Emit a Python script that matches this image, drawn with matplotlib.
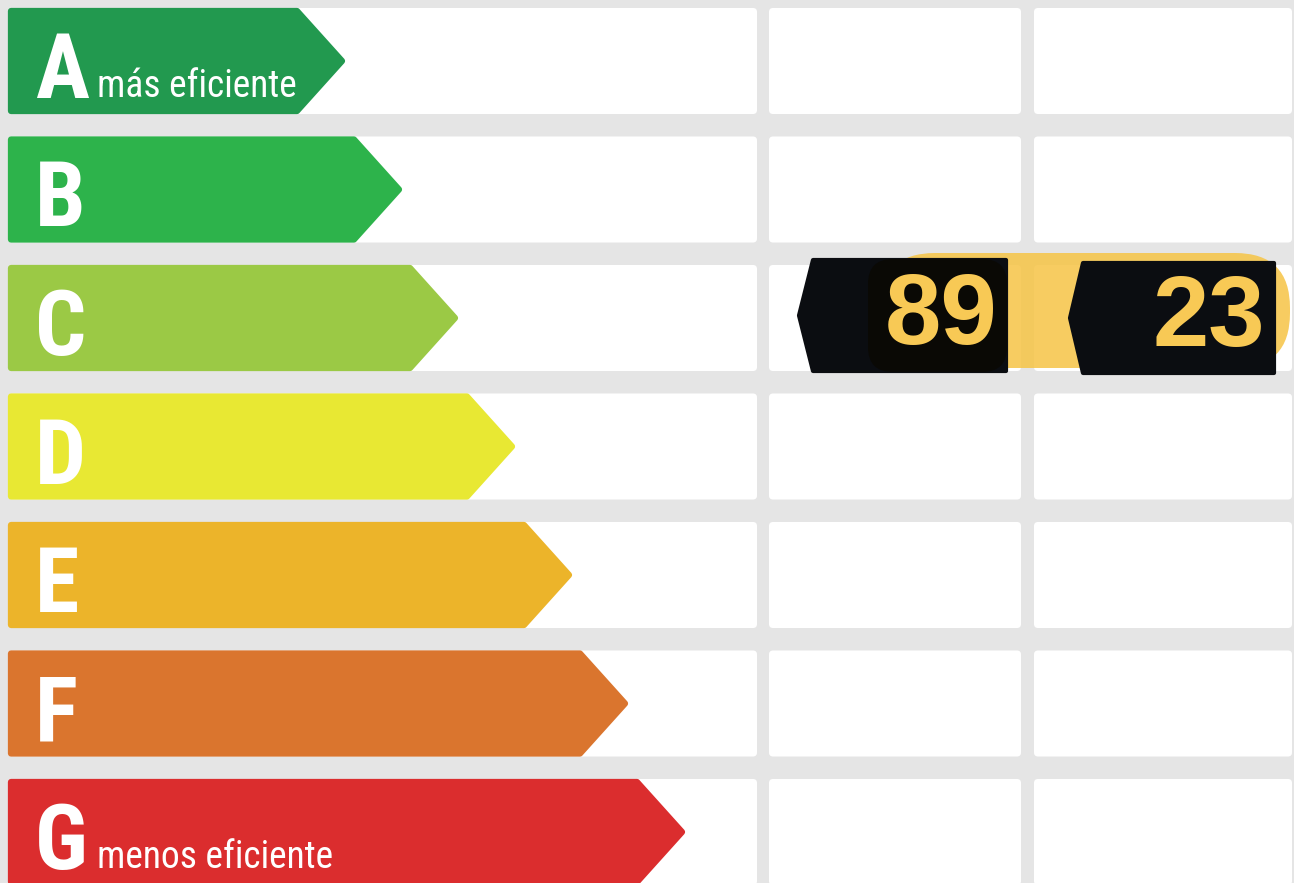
import os
import numpy as np
import matplotlib
matplotlib.use("Agg")
from matplotlib import pyplot as plt
from matplotlib import font_manager as fm
from matplotlib.patches import Polygon, FancyBboxPatch

# datos de la etiqueta
categories = ["A", "B", "C", "D", "E", "F", "G"]
subtitles = ["más eficiente", "", "", "", "", "", "menos eficiente"]
arrow_len = [345, 402, 458, 515, 572, 628, 685]
colors = ["#22994f", "#2db34b", "#9bc945", "#e8e833", "#ecb42a", "#da752e", "#db2d2e"]

rating = "C"
values = [89, 23]


def pick_condensed(bold):
    # busca una fuente estrecha instalada, si no hay usa Liberation Sans
    prefs = ["liberation sans narrow", "roboto condensed", "open sans condensed",
             "opensans-cond", "notosans-condensed", "noto sans condensed",
             "dejavu sans condensed", "dejavusanscondensed", "condensed", "narrow"]
    best = None
    for f in fm.fontManager.ttflist:
        key = (f.name + " " + os.path.basename(f.fname)).lower()
        if any(s in key for s in ["italic", "oblique", "light", "thin", "extra", "semi",
                                  "black", "medium", "ultra"]):
            continue
        w = f.weight if isinstance(f.weight, int) else (700 if "bold" in str(f.weight) else 400)
        if bold != (w >= 600):
            continue
        for rank, p in enumerate(prefs):
            if p in key or (p == "condensed" and "condensed" in str(f.stretch)):
                if best is None or rank < best[0]:
                    best = (rank, f.fname)
                break
    if best is None:
        return fm.FontProperties(family="Liberation Sans",
                                 weight="bold" if bold else "normal")
    return fm.FontProperties(fname=best[1])


letter_fp = pick_condensed(True)
sub_fp = pick_condensed(False)
num_fp = fm.FontProperties(fname=fm.findfont(fm.FontProperties(family="Liberation Sans",
                                                                weight="bold")))

W, H = 1294, 883
fig = plt.figure(figsize=(W / 100, H / 100), dpi=100, facecolor="#e5e5e5")
ax = fig.add_axes([0, 0, 1, 1])
ax.set_xlim(0, W)
ax.set_ylim(H, 0)
ax.axis("off")

row_top0, row_pitch, row_h = 8, 128.5, 106
cols = [(8, 757), (769, 1021), (1034, 1292)]
ins = 3  # borde redondeado de las flechas

for i, cat in enumerate(categories):
    top = row_top0 + i * row_pitch
    # celdas blancas
    for (x0, x1) in cols:
        ax.add_patch(FancyBboxPatch((x0, top), x1 - x0, row_h,
                                    boxstyle="round,pad=0,rounding_size=4",
                                    fc="white", ec="none", zorder=1))
    # flecha de la clase
    tip = arrow_len[i]
    body = tip - 48
    pts = [(8 + ins, top + ins), (body, top + ins), (tip - ins, top + row_h / 2),
           (body, top + row_h - ins), (8 + ins, top + row_h - ins)]
    ax.add_patch(Polygon(pts, closed=True, fc=colors[i], ec=colors[i], lw=4.5,
                         joinstyle="round", zorder=2))
    ax.text(35, top + 90, cat, color="white", fontsize=65,
            fontproperties=letter_fp, va="baseline", ha="left", zorder=3)
    if subtitles[i]:
        ax.text(97, top + 89, subtitles[i], color="white", fontsize=27,
                fontproperties=sub_fp, va="baseline", ha="left", zorder=3)

# indicador de la clase obtenida
r = categories.index(rating)
top = row_top0 + r * row_pitch

band = FancyBboxPatch((880, top - 12), 410, 115,
                      boxstyle="round,pad=0,rounding_size=55",
                      fc="#f6c445", ec="none", alpha=0.85, zorder=4)
ax.add_patch(band)

badges = [(799, 813, 1006, top - 5, top + 106), (1070, 1083, 1274, top - 2, top + 108)]
for (tx, bx0, bx1, by0, by1), val in zip(badges, values):
    pts = [(tx, (by0 + by1) / 2), (bx0, by0), (bx1, by0), (bx1, by1), (bx0, by1)]
    ax.add_patch(Polygon(pts, closed=True, fc="#0b0d11", ec="#0b0d11", lw=3,
                         joinstyle="round", zorder=5))
    ax.text(bx1 - 9, by1 - 27, str(val), color="#f8c955", fontsize=73,
            fontproperties=num_fp, ha="right", va="baseline", zorder=6)

ax.add_patch(FancyBboxPatch((868, top - 6), 139, 113,
                            boxstyle="round,pad=0,rounding_size=25",
                            fc="#0a0905", ec="none", zorder=5.5))

fig.savefig("out.png", dpi=100, facecolor=fig.get_facecolor())
